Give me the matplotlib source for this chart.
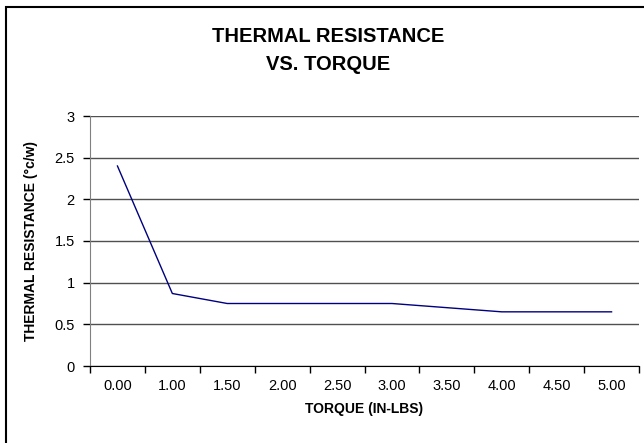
#!/usr/bin/env python3

import numpy as np
import matplotlib
matplotlib.use("Agg")
import matplotlib.pyplot as plt
from matplotlib.patches import Rectangle

torque_labels = ["0.00", "1.00", "1.50", "2.00", "2.50", "3.00", "3.50", "4.00", "4.50", "5.00"]
resistance = [2.4, 0.87, 0.75, 0.75, 0.75, 0.75, 0.70, 0.65, 0.65, 0.65]
y_ticks = [0, 0.5, 1, 1.5, 2, 2.5, 3]
y_tick_labels = ["0", "0.5", "1", "1.5", "2", "2.5", "3"]

plt.rcParams["font.family"] = ["Liberation Sans", "DejaVu Sans"]

W, H = 644, 443
fig = plt.figure(figsize=(W / 100, H / 100), dpi=100)

# outer chart frame (only left/top edges fall inside the image)
fig.patches.append(
    Rectangle((6 / W, -0.1), 1.2, 1 - 7 / H + 0.1, transform=fig.transFigure,
              fill=False, edgecolor="black", linewidth=1.5)
)

ax = fig.add_axes([90 / W, 1 - 366 / H, (639 - 90) / W, (366 - 116) / H])

x = np.arange(len(torque_labels))
ax.plot(x, resistance, color="#000080", linewidth=1)

ax.set_xlim(-0.5, len(torque_labels) - 0.5)
ax.set_ylim(0, 3)

# category tick marks between categories, labels at centres
ax.set_xticks(np.arange(-0.5, len(torque_labels), 1.0))
ax.set_xticklabels([])
ax.set_xticks(x, minor=True)
ax.set_xticklabels(torque_labels, minor=True, fontsize=10.5)
ax.tick_params(axis="x", which="major", length=5, width=1, color="black", direction="out")
ax.tick_params(axis="x", which="minor", length=0, pad=9)

ax.set_yticks(y_ticks)
ax.set_yticklabels(y_tick_labels, fontsize=10.5)
ax.tick_params(axis="y", length=5, width=1, color="black", direction="out", pad=6)

ax.grid(True, axis="y", color="#505050", linewidth=1)
ax.set_axisbelow(True)
for side in ["top", "right"]:
    ax.spines[side].set_visible(False)
ax.spines["left"].set_color("#808080")
ax.spines["bottom"].set_color("black")

ax.set_xlabel("TORQUE (IN-LBS)", fontsize=10, fontweight="bold", labelpad=7)
ax.set_ylabel("THERMAL RESISTANCE (°c/w)", fontsize=10, fontweight="bold", labelpad=12)

fig.text(328 / W, 1 - 51 / H, "THERMAL RESISTANCE\nVS. TORQUE", ha="center", va="center",
         fontsize=14.5, fontweight="bold", linespacing=1.6)

fig.savefig("out.png", dpi=100)
